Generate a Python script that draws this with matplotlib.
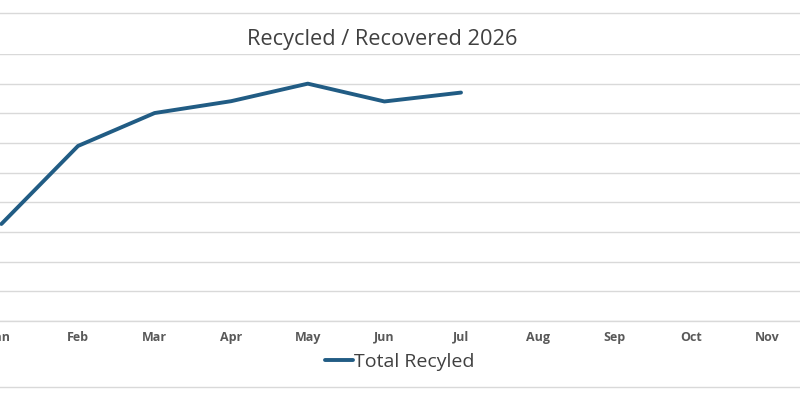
import matplotlib
matplotlib.use("Agg")
import matplotlib.pyplot as plt
from matplotlib.lines import Line2D

months = ["Jan", "Feb", "Mar", "Apr", "May", "Jun", "Jul", "Aug", "Sep", "Oct", "Nov"]
total_recycled = [32.7, 59.0, 70.1, 74.1, 80.0, 74.0, 77.0]
series_name = "Total Recyled"
title = "Recycled / Recovered 2026"

W, H = 800, 400
fig = plt.figure(figsize=(W / 100, H / 100), dpi=100)

# axes placed so that the plot is cropped like the reference (12 category slots)
x0 = 1.4
step = 76.6
left_px = x0 - 0.5 * step
right_px = x0 + 11.5 * step
bottom_px = 321
top_px = 54
ax = fig.add_axes([left_px / W, (H - bottom_px) / H, (right_px - left_px) / W, (bottom_px - top_px) / H])

grid_c = "#D9D9D9"
x = list(range(len(total_recycled)))
ax.plot(x, total_recycled, color="#215C84", lw=2.8, solid_capstyle="round", solid_joinstyle="round",
        label=series_name, zorder=3)

ax.set_xlim(-0.5, 11.5)
ax.set_ylim(0, 90)
ax.set_xticks(range(len(months)))
ax.set_xticklabels(months, fontsize=9, fontweight="bold", color="#595959", family=["Open Sans", "DejaVu Sans"])
ax.set_yticks(range(0, 91, 10))
ax.yaxis.grid(True, color=grid_c, lw=1.0)
ax.tick_params(axis="x", length=0, pad=7)
ax.tick_params(axis="y", length=0, labelleft=False)
for s in ["top", "right", "left"]:
    ax.spines[s].set_visible(False)
ax.spines["bottom"].set_color(grid_c)
ax.spines["bottom"].set_linewidth(1.0)
ax.set_axisbelow(True)

fig.text(382 / W, 1 - 40 / H, title, ha="center", va="center", fontsize=15.7, color="#404040",
         family=["Open Sans", "DejaVu Sans"])

leg = fig.legend(loc="center", bbox_to_anchor=(400 / W, 1 - 362 / H), frameon=False,
                 prop={"family": ["Open Sans", "DejaVu Sans"], "size": 14}, handlelength=1.45,
                 handletextpad=0.05, labelcolor="#404040")

for yy in (13, 387):
    fig.add_artist(Line2D([0, 1], [1 - yy / H, 1 - yy / H], transform=fig.transFigure, color=grid_c, lw=1.0))

fig.savefig("out.png", dpi=100)
